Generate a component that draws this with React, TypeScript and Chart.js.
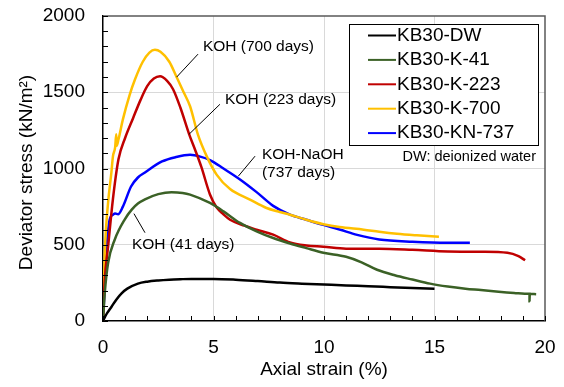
import React, { useEffect, useRef } from "react";
import { Chart, registerables } from "chart.js";

Chart.register(...registerables);

const FONT = '"Liberation Sans", Arial, Helvetica, sans-serif';

// ---- data (axial strain %, deviator stress kN/m2) ----
const seriesLabels = ["KB30-DW", "KB30-K-41", "KB30-K-223", "KB30-K-700", "KB30-KN-737"];
const seriesColors = ["#000000", "#3b6126", "#c00000", "#ffc000", "#0000ff"];

const kb30DW: number[][] = [
  [0, 0], [0.1, 30], [0.2, 55], [0.38, 92], [0.6, 140], [0.83, 180], [1.1, 212], [1.58, 245],
  [2, 258], [2.5, 266], [3, 271], [3.5, 274], [4, 276], [5, 276], [6, 271], [7, 262], [8, 252],
  [9, 245], [10, 239], [11, 233], [12, 228], [13, 222], [14, 216], [15, 212],
];

const kb30K41: number[][] = [
  [0, 0], [0.08, 184], [0.23, 380], [0.53, 533], [0.98, 665], [1.3, 730], [1.58, 770], [1.9, 798],
  [2.5, 832], [3.1, 845], [3.6, 840], [3.94, 829], [4.84, 774], [5.45, 719], [6.2, 643], [6.95, 588],
  [7.7, 544], [8.46, 508], [9.2, 478], [9.97, 448], [11, 421], [11.7, 385], [12.4, 336], [13.2, 300],
  [14, 272], [14.8, 245], [15.6, 226], [16.4, 212], [17.1, 203], [17.9, 192], [18.6, 184],
  [19.3, 178], [19.3, 130], [19.31, 178], [19.6, 176],
];

const kb30K223: number[][] = [
  [0, 0], [0.08, 270], [0.23, 487], [0.45, 800], [0.7, 1060], [1.0, 1200], [1.36, 1330], [1.7, 1450],
  [2.0, 1540], [2.3, 1590], [2.58, 1605], [2.9, 1575], [3.17, 1520], [3.5, 1400], [3.9, 1224],
  [4.2, 1110], [4.45, 1010], [4.84, 830], [5.14, 745], [5.45, 700], [5.75, 664], [6.4, 625],
  [6.95, 599], [7.7, 566], [8.46, 515], [9.2, 495], [9.97, 487], [11, 474], [12.5, 474], [14, 467],
  [15.6, 456], [17.1, 454], [18.3, 447], [18.8, 425], [19.1, 398],
];

const kb30K700: number[][] = [
  [0, 0], [0.08, 447], [0.23, 776], [0.38, 974], [0.45, 1079], [0.55, 1140], [0.6, 1225], [0.62, 1150],
  [0.7, 1190], [0.9, 1322], [1.2, 1480], [1.45, 1585], [1.8, 1700], [2.1, 1760], [2.35, 1778],
  [2.6, 1765], [3.0, 1700], [3.33, 1600], [3.65, 1500], [3.94, 1408], [4.3, 1220], [4.69, 1081],
  [5.14, 960], [5.75, 865], [6.65, 796], [7.4, 741], [8.0, 715], [8.46, 697], [9.2, 664], [9.97, 635],
  [10.7, 616], [11.8, 599], [12.5, 585], [13.3, 572], [14.2, 562], [15.2, 553],
];

const kb30KN737: number[][] = [
  [0, 0], [0.05, 150], [0.1, 300], [0.15, 447], [0.3, 664], [0.45, 697], [0.55, 705], [0.68, 700],
  [0.9, 750], [1.27, 882], [1.58, 941], [1.9, 974], [2.67, 1046], [3.3, 1075], [3.94, 1090],
  [4.4, 1078], [4.84, 1055], [5.45, 1000], [6.2, 928], [6.95, 845], [7.7, 755], [8.46, 697],
  [9.2, 664], [9.97, 630], [10.7, 600], [11.5, 565], [12.5, 535], [14, 520], [15.6, 513], [16.6, 513],
];

const seriesData = [kb30DW, kb30K41, kb30K223, kb30K700, kb30KN737];

const xTitle = "Axial strain (%)";
const yTitle = "Deviator stress (kN/m²)";
const noteText = "DW: deionized water";

// annotation texts (anchored in data units) and leader lines
const annotationTexts = [
  { lines: ["KOH (700 days)"], x: 4.52, y: [1796] },
  { lines: ["KOH (223 days)"], x: 5.52, y: [1454] },
  { lines: ["KOH-NaOH", "(737 days)"], x: 7.19, y: [1092, 974] },
  { lines: ["KOH (41 days)"], x: 1.31, y: [500] },
];
const leaderLines = [
  [[4.3, 1750], [3.33, 1599]],
  [[5.29, 1421], [3.89, 1224]],
  [[6.88, 1081], [6.12, 949]],
  [[1.9, 579], [1.4, 704]],
];

const decorPlugin = {
  id: "decor",
  afterDatasetsDraw(chart: any) {
    const { ctx, chartArea, scales } = chart;
    const xs = scales.x;
    const ys = scales.y;
    const { left, right, top, bottom } = chartArea;
    ctx.save();

    // top/right frame
    ctx.strokeStyle = "#595959";
    ctx.lineWidth = 1.5;
    ctx.beginPath();
    ctx.moveTo(left, top);
    ctx.lineTo(right, top);
    ctx.lineTo(right, bottom);
    ctx.stroke();

    // inward tick marks
    ctx.strokeStyle = "#000";
    ctx.lineWidth = 1;
    ctx.beginPath();
    for (let v = 0; v <= 20; v += 1) {
      const px = Math.round(xs.getPixelForValue(v)) + 0.5;
      ctx.moveTo(px, bottom);
      ctx.lineTo(px, bottom - 5);
    }
    for (let v = 0; v <= 2000; v += 100) {
      const py = Math.round(ys.getPixelForValue(v)) + 0.5;
      ctx.moveTo(left, py);
      ctx.lineTo(left + 5, py);
    }
    ctx.stroke();

    // y axis title
    ctx.save();
    ctx.translate(27, (top + bottom) / 2 + 4);
    ctx.rotate(-Math.PI / 2);
    ctx.fillStyle = "#000";
    ctx.font = `19px ${FONT}`;
    ctx.textAlign = "center";
    ctx.textBaseline = "middle";
    ctx.fillText(yTitle, 0, 0);
    ctx.restore();

    // annotations
    ctx.fillStyle = "#000";
    ctx.font = `15.5px ${FONT}`;
    ctx.textAlign = "left";
    ctx.textBaseline = "middle";
    annotationTexts.forEach((a) => {
      a.lines.forEach((t, i) => {
        ctx.fillText(t, xs.getPixelForValue(a.x), ys.getPixelForValue(a.y[i]));
      });
    });
    ctx.lineWidth = 1;
    ctx.beginPath();
    leaderLines.forEach(([p, q]) => {
      ctx.moveTo(xs.getPixelForValue(p[0]), ys.getPixelForValue(p[1]));
      ctx.lineTo(xs.getPixelForValue(q[0]), ys.getPixelForValue(q[1]));
    });
    ctx.stroke();

    // legend
    const bx = right - 196;
    const by = top + 8;
    const bw = 189;
    const bh = 121;
    ctx.fillStyle = "#fff";
    ctx.fillRect(bx, by, bw, bh);
    ctx.strokeStyle = "#000";
    ctx.lineWidth = 1;
    ctx.strokeRect(Math.round(bx) + 0.5, Math.round(by) + 0.5, bw, bh);
    ctx.font = `19px ${FONT}`;
    ctx.textBaseline = "middle";
    seriesLabels.forEach((lab, i) => {
      const cy = by + 11.5 + i * 24.4;
      ctx.strokeStyle = seriesColors[i];
      ctx.lineWidth = 2;
      ctx.beginPath();
      ctx.moveTo(bx + 19, cy);
      ctx.lineTo(bx + 47, cy);
      ctx.stroke();
      ctx.fillStyle = "#000";
      ctx.fillText(lab, bx + 48, cy);
    });
    ctx.font = `14.5px ${FONT}`;
    ctx.textAlign = "right";
    ctx.fillText(noteText, right - 9, by + bh + 12);
    ctx.restore();
  },
};

export default function App() {
  const ref = useRef<HTMLCanvasElement | null>(null);
  useEffect(() => {
    if (!ref.current) return;
    const chart = new Chart(ref.current, {
      type: "scatter",
      data: {
        datasets: seriesData.map((d, i) => ({
          label: seriesLabels[i],
          data: d.map(([x, y]) => ({ x, y })),
          showLine: true,
          borderColor: seriesColors[i],
          backgroundColor: seriesColors[i],
          borderWidth: 2.5,
          pointRadius: 0,
          cubicInterpolationMode: "monotone",
        })),
      },
      options: {
        animation: false,
        responsive: false,
        devicePixelRatio: 1,
        layout: { padding: { left: 0, top: 16, right: 19, bottom: 0 } },
        plugins: { legend: { display: false }, tooltip: { enabled: false } },
        scales: {
          x: {
            type: "linear",
            min: 0,
            max: 20,
            ticks: {
              stepSize: 5,
              color: "#000",
              font: { family: FONT, size: 19 },
              padding: 15,
              callback: (v: any) => String(v),
            },
            grid: {
              color: (c: any) => (c.tick && (c.tick.value === 0 || c.tick.value === 20) ? "rgba(0,0,0,0)" : "#d9d9d9"),
              lineWidth: 1,
              drawTicks: false,
            },
            border: { display: true, color: "#000", width: 1.5 },
            title: { display: true, text: xTitle, color: "#000", font: { family: FONT, size: 19 }, padding: { top: 0, bottom: 6 } },
            afterFit: (s: any) => {
              s.height = 66;
              s.paddingLeft = 0;
              s.paddingRight = 0;
            },
          },
          y: {
            type: "linear",
            min: 0,
            max: 2000,
            ticks: {
              stepSize: 500,
              color: "#000",
              font: { family: FONT, size: 19 },
              padding: 18,
              callback: (v: any) => String(v),
            },
            grid: {
              color: (c: any) => (c.tick && (c.tick.value === 0 || c.tick.value === 2000) ? "rgba(0,0,0,0)" : "#d9d9d9"),
              lineWidth: 1,
              drawTicks: false,
            },
            border: { display: true, color: "#000", width: 1.5 },
            title: { display: false, text: yTitle },
            afterFit: (s: any) => {
              s.width = 103;
              s.paddingTop = 0;
              s.paddingBottom = 0;
            },
          },
        },
      },
      plugins: [decorPlugin],
    });
    return () => chart.destroy();
  }, []);
  return (
    <div style={{ position: "fixed", left: 0, top: 0, width: 564, height: 387, background: "#fff" }}>
      <canvas ref={ref} width={564} height={387} style={{ width: 564, height: 387 }} />
    </div>
  );
}
